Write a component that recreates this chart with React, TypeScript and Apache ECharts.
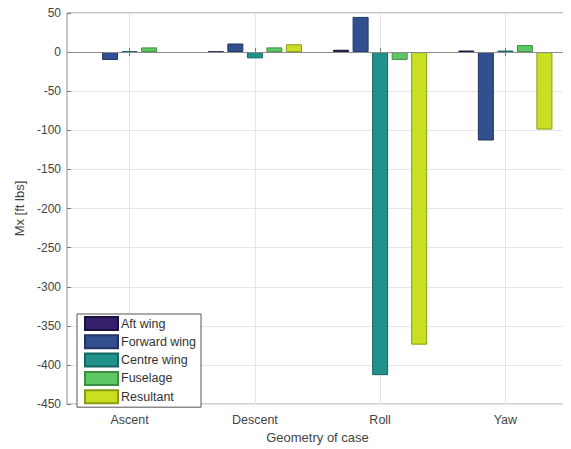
import React, { useEffect, useRef } from "react";
import * as echarts from "echarts";

const categories = ["Ascent", "Descent", "Roll", "Yaw"];
const seriesNames = ["Aft wing", "Forward wing", "Centre wing", "Fuselage", "Resultant"];
const aftWing = [-1, 0.5, 3, 2];
const forwardWing = [-10, 11, 45, -113];
const centreWing = [1, -8, -413, 2];
const fuselage = [6, 6, -10, 9];
const resultant = [-1, 10, -374, -99];
const colors = ["#35206b", "#32508f", "#21918c", "#5dc863", "#c8df22"];
const borders = ["#1c1040", "#1f3461", "#146660", "#3c8f42", "#8a9a14"];
const yTicks = { min: -450, max: 50, interval: 50 };

export default function App() {
  const ref = useRef<HTMLDivElement>(null);
  useEffect(() => {
    const chart = echarts.init(ref.current!, null, { renderer: "svg" });
    const values = [aftWing, forwardWing, centreWing, fuselage, resultant];
    const font = "Liberation Sans";
    const auxCats = ["", "a", "", "b", "", "c", "", "d", ""];
    chart.setOption({
      animation: false,
      textStyle: { fontFamily: font },
      grid: {
        left: 67, right: 3, top: 13, bottom: 41,
        show: true, borderColor: "#8c8c8c", borderWidth: 1, backgroundColor: "#fff",
      },
      legend: {
        orient: "vertical",
        left: 77, top: 314,
        icon: "rect",
        itemWidth: 33, itemHeight: 13, itemGap: 3.3,
        padding: [2, 5, 3, 7],
        backgroundColor: "#fff",
        borderColor: "#555",
        borderWidth: 1,
        borderRadius: 0,
        textStyle: { fontFamily: font, fontSize: 12.5, color: "#333", padding: [0, 0, 0, -2] },
        data: seriesNames,
      },
      xAxis: [
        {
          type: "category",
          data: categories,
          boundaryGap: true,
          axisLine: { show: false },
          axisTick: { show: true, alignWithLabel: true, inside: true, length: 4, lineStyle: { color: "#777" } },
          axisLabel: { fontSize: 12.5, color: "#444", margin: 9 },
          splitLine: { show: false },
          name: "Geometry of case",
          nameLocation: "middle",
          nameGap: 26,
          nameTextStyle: { fontSize: 13, color: "#444" },
        },
        {
          type: "category",
          data: auxCats,
          boundaryGap: false,
          position: "top",
          axisLine: { show: false },
          axisLabel: { show: false },
          axisTick: { show: true, inside: true, length: 4, interval: (i: number) => i % 2 === 1, lineStyle: { color: "#777" } },
          splitLine: { show: true, interval: (i: number) => i % 2 === 1, lineStyle: { color: "#e6e6e6", width: 1 } },
        },
      ],
      yAxis: [
        {
          type: "value",
          ...yTicks,
          axisLine: { show: false },
          axisTick: { show: true, inside: true, length: 4, lineStyle: { color: "#777" } },
          axisLabel: { fontSize: 12, color: "#444", margin: 6 },
          splitLine: { show: true, lineStyle: { color: "#e6e6e6", width: 1 } },
          name: "Mx [ft lbs]",
          nameLocation: "middle",
          nameGap: 30,
          nameTextStyle: { fontSize: 13, color: "#444" },
        },
        {
          type: "value",
          ...yTicks,
          position: "right",
          axisLine: { show: false },
          axisTick: { show: true, inside: true, length: 4, lineStyle: { color: "#777" } },
          axisLabel: { show: false },
          splitLine: { show: false },
        },
      ],
      series: seriesNames.map((name, i) => ({
        name,
        type: "bar",
        xAxisIndex: 0,
        yAxisIndex: 0,
        data: values[i],
        barWidth: 16,
        barGap: "22%",
        itemStyle: { color: colors[i], borderColor: borders[i], borderWidth: 1 },
        ...(i === 0
          ? {
              markLine: {
                silent: true,
                symbol: "none",
                label: { show: false },
                lineStyle: { color: "#8c8c8c", type: "solid", width: 1 },
                data: [{ yAxis: 0 }],
              },
            }
          : {}),
      })),
    });
    return () => chart.dispose();
  }, []);
  return <div ref={ref} style={{ width: 571, height: 449, marginLeft: -8, marginTop: -8 }} />;
}
